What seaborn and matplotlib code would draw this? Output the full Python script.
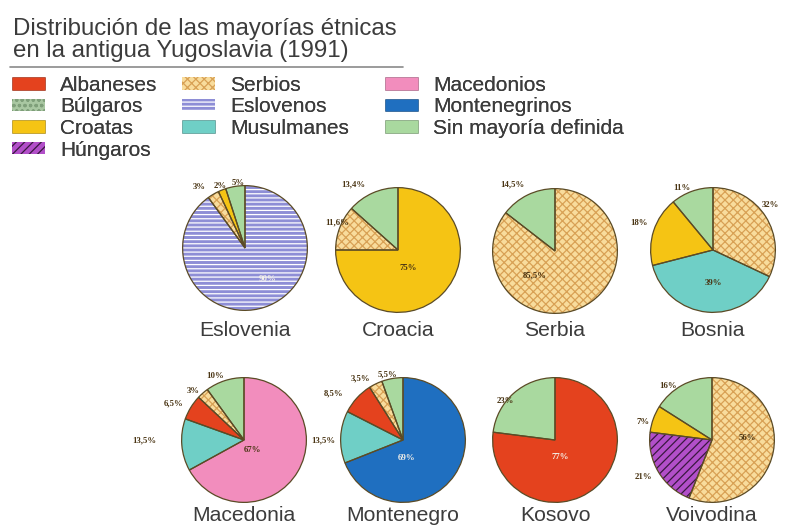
import matplotlib
matplotlib.use("Agg")
import matplotlib.pyplot as plt
from matplotlib.patches import Patch
from matplotlib.lines import Line2D
import seaborn as sns

# ---------------- data ----------------
groups = ['Albaneses', 'Búlgaros', 'Croatas', 'Húngaros', 'Serbios',
          'Eslovenos', 'Musulmanes', 'Macedonios', 'Montenegrinos',
          'Sin mayoría definida']

regions = ['Eslovenia', 'Croacia', 'Serbia', 'Bosnia',
           'Macedonia', 'Montenegro', 'Kosovo', 'Voivodina']

eslovenia_groups = ['Eslovenos', 'Serbios', 'Croatas', 'Sin mayoría definida']
eslovenia_vals = [90, 3, 2, 5]
croacia_groups = ['Croatas', 'Serbios', 'Sin mayoría definida']
croacia_vals = [75, 11.6, 13.4]
serbia_groups = ['Serbios', 'Sin mayoría definida']
serbia_vals = [85.5, 14.5]
bosnia_groups = ['Serbios', 'Musulmanes', 'Croatas', 'Sin mayoría definida']
bosnia_vals = [32, 39, 18, 11]
macedonia_groups = ['Macedonios', 'Musulmanes', 'Albaneses', 'Serbios', 'Sin mayoría definida']
macedonia_vals = [67, 13.5, 6.5, 3, 10]
montenegro_groups = ['Montenegrinos', 'Musulmanes', 'Albaneses', 'Serbios', 'Sin mayoría definida']
montenegro_vals = [69, 13.5, 8.5, 3.5, 5.5]
kosovo_groups = ['Albaneses', 'Sin mayoría definida']
kosovo_vals = [77, 23]
voivodina_groups = ['Serbios', 'Húngaros', 'Croatas', 'Sin mayoría definida']
voivodina_vals = [56, 21, 7, 16]

title_lines = ['Distribución de las mayorías étnicas', 'en la antigua Yugoslavia (1991)']

# ---------------- styles ----------------
face = {'Albaneses': '#e4421e', 'Búlgaros': '#a9c7a2', 'Croatas': '#f5c414',
        'Húngaros': '#b24fc9', 'Serbios': '#f8dc9c', 'Eslovenos': '#8e8ed6',
        'Musulmanes': '#6fcfc6', 'Macedonios': '#f28dbd', 'Montenegrinos': '#1f6fc0',
        'Sin mayoría definida': '#a9d99f'}
hatch = {'Búlgaros': 'ooo', 'Húngaros': '////', 'Serbios': 'xxxx', 'Eslovenos': '----'}
hatch_col = {'Búlgaros': '#7f9f7a', 'Húngaros': '#3a1840', 'Serbios': '#d8a155',
             'Eslovenos': '#ffffff'}
light_text = {'Eslovenos', 'Montenegrinos', 'Albaneses'}

W, H = 788, 529
sns.set_theme(style='white')
plt.rcParams['font.family'] = ['Liberation Sans', 'DejaVu Sans']
plt.rcParams['hatch.linewidth'] = 0.9

fig = plt.figure(figsize=(W / 100, H / 100), dpi=100)
fig.patch.set_facecolor('white')

def fx(px):
    return px / W

def fy(py):
    return 1 - py / H

# title
text_col = '#3c3c3c'
fig.text(fx(13), fy(35), title_lines[0], fontsize=17.3, color=text_col, va='baseline')
fig.text(fx(13), fy(57), title_lines[1], fontsize=17.3, color=text_col, va='baseline')
fig.add_artist(Line2D([fx(10), fx(403)], [fy(67), fy(67)], color='#8a8a8a', lw=1.2))

# legend (three columns, filled column-wise)
def handle(g):
    if g in hatch:
        return Patch(facecolor=face[g], hatch=hatch[g], edgecolor=hatch_col[g], lw=0)
    return Patch(facecolor=face[g], edgecolor='#00000033', lw=0.5)

cols = [groups[0:4], groups[4:7], groups[7:10]]
col_x = [12, 182, 385]
fs = 15
fpx = fs * 100 / 72
for names, x in zip(cols, col_x):
    leg = fig.legend([handle(g) for g in names], names, loc='upper left',
                     bbox_to_anchor=(fx(x), fy(76)), frameon=False, fontsize=fs,
                     handlelength=33 / fpx, handleheight=11 / fpx,
                     handletextpad=15 / fpx, labelspacing=0.12,
                     borderpad=0, borderaxespad=0)
    for t in leg.get_texts():
        t.set_color(text_col)
    fig.add_artist(leg)

# pies
data = {
    'Eslovenia': (eslovenia_groups, eslovenia_vals),
    'Croacia': (croacia_groups, croacia_vals),
    'Serbia': (serbia_groups, serbia_vals),
    'Bosnia': (bosnia_groups, bosnia_vals),
    'Macedonia': (macedonia_groups, macedonia_vals),
    'Montenegro': (montenegro_groups, montenegro_vals),
    'Kosovo': (kosovo_groups, kosovo_vals),
    'Voivodina': (voivodina_groups, voivodina_vals),
}
centers = {'Eslovenia': (245, 248), 'Croacia': (398, 250), 'Serbia': (555, 251),
           'Bosnia': (713, 250), 'Macedonia': (244, 440), 'Montenegro': (403, 440),
           'Kosovo': (555, 440), 'Voivodina': (712, 440)}
radius = 63
label_pos = {
    'Eslovenia': [(0.37, -0.5), (-0.73, 0.98), (-0.40, 1.0), (-0.11, 1.05)],
    'Croacia': [(0.16, -0.29), (-0.98, 0.44), (-0.71, 1.05)],
    'Serbia': [(-0.32, -0.39), (-0.68, 1.06)],
    'Bosnia': [(0.92, 0.72), (0.0, -0.53), (-1.19, 0.44), (-0.5, 1.0)],
    'Macedonia': [(0.14, -0.16), (-1.6, 0.0), (-1.13, 0.59), (-0.81, 0.79), (-0.46, 1.03)],
    'Montenegro': [(0.06, -0.29), (-1.27, 0.0), (-1.11, 0.75), (-0.68, 0.98), (-0.25, 1.05)],
    'Kosovo': [(0.08, -0.27), (-0.79, 0.63)],
    'Voivodina': [(0.57, 0.03), (-1.1, -0.59), (-1.11, 0.29), (-0.70, 0.87)],
}
name_base = {0: 336, 1: 521}

def fmt(v):
    return ('%g' % v).replace('.', ',') + '%'

for i, reg in enumerate(regions):
    gnames, vals = data[reg]
    cx, cy = centers[reg]
    r = radius
    ax = fig.add_axes([fx(cx - r), fy(cy + r), fx(2 * r), (2 * r) / H])
    wedges, _ = ax.pie(vals, colors=[face[g] for g in gnames], startangle=90,
                       counterclock=False, radius=1,
                       wedgeprops=dict(linewidth=0))
    for w, g in zip(wedges, gnames):
        if g in hatch:
            w.set_hatch(hatch[g])
            w.set_edgecolor(hatch_col[g])
    # outlines
    ax.pie(vals, colors=['none'] * len(vals), startangle=90, counterclock=False,
           radius=1, wedgeprops=dict(linewidth=0.9, edgecolor='#5b4b26', fill=False))
    ax.set_xlim(-1.01, 1.01)
    ax.set_ylim(-1.01, 1.01)
    ax.set_aspect('auto')
    ax.axis('off')
    for (lx, ly), v, g in zip(label_pos[reg], vals, gnames):
        inside = (lx * lx + ly * ly) < 0.8
        col = '#f4f0e8' if (inside and g in light_text) else '#4a3514'
        ax.text(lx, ly, fmt(v), ha='center', va='center', fontsize=6.3,
                family=['Liberation Serif', 'DejaVu Serif'], weight='bold',
                color=col, clip_on=False)
    fig.text(fx(cx), fy(name_base[i // 4]), reg, ha='center', va='baseline',
             fontsize=15.2, color=text_col)

fig.savefig('out.png', dpi=100, facecolor='white')
